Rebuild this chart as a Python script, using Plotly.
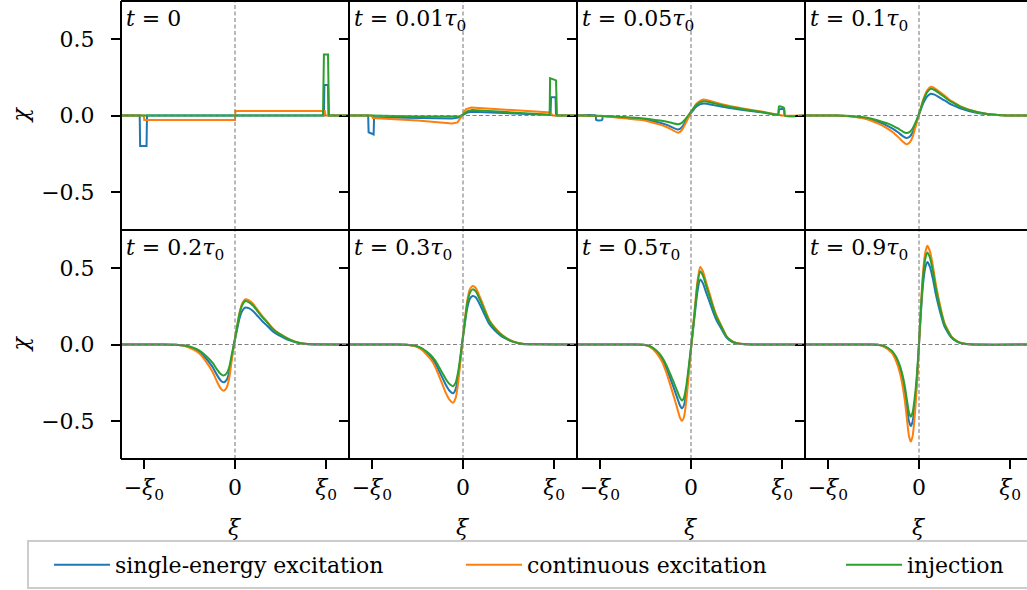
import plotly.graph_objects as go
from plotly.subplots import make_subplots

# ---------------- data (xi in units of xi_0, chi) ----------------
series_names = ["single-energy excitation", "continuous excitation", "injection"]
series_colors = ["#1f77b4", "#ff7f0e", "#2ca02c"]
panel_titles = [
    "<i>t</i> = 0",
    "<i>t</i> = 0.01<i>τ</i><sub>0</sub>",
    "<i>t</i> = 0.05<i>τ</i><sub>0</sub>",
    "<i>t</i> = 0.1<i>τ</i><sub>0</sub>",
    "<i>t</i> = 0.2<i>τ</i><sub>0</sub>",
    "<i>t</i> = 0.3<i>τ</i><sub>0</sub>",
    "<i>t</i> = 0.5<i>τ</i><sub>0</sub>",
    "<i>t</i> = 0.9<i>τ</i><sub>0</sub>",
]
x_tickvals = [-1, 0, 1]
x_ticktext = ["−<i>ξ</i><sub>0</sub>", "0", "<i>ξ</i><sub>0</sub>"]
y_tickvals = [-0.5, 0.0, 0.5]
y_ticktext = ["−0.5", "0.0", "0.5"]

# t = 0
xi_t0_se = [-1.25, -1.045, -1.04, -0.97, -0.965, 0.975, 0.98, 1.02, 1.025, 1.25]
se_t0 = [0, 0, -0.2, -0.2, 0, 0, 0.2, 0.2, 0, 0]
xi_t0_ce = [-1.25, -1.0, -0.995, 0.0, 0.005, 0.985, 0.99, 1.25]
ce_t0 = [0, 0, -0.03, -0.03, 0.03, 0.03, 0, 0]
xi_t0_inj = [-1.25, 0.965, 0.975, 1.02, 1.03, 1.25]
inj_t0 = [0, 0, 0.4, 0.4, 0, 0]

# t = 0.01 tau0
xi_t1_se = [-1.25, -1.04, -1.035, -0.98, -0.975, -0.5, -0.12, -0.05, 0.0, 0.05, 0.1, 0.5, 0.96, 0.965, 1.015, 1.02, 1.25]
se_t1 = [0, 0, -0.11, -0.124, -0.012, -0.015, -0.02, -0.014, 0.003, 0.02, 0.024, 0.014, 0.004, 0.12, 0.12, 0, 0]
xi_t1_ce = [-1.25, -1.0, -0.99, -0.5, -0.12, -0.06, -0.02, 0.0, 0.03, 0.09, 0.5, 0.96, 0.98, 1.25]
ce_t1 = [0, 0, -0.016, -0.033, -0.052, -0.045, -0.01, 0.01, 0.04, 0.052, 0.037, 0.02, 0, 0]
xi_t1_inj = [-1.25, -1.0, -0.5, -0.12, -0.05, 0.0, 0.05, 0.1, 0.5, 0.95, 0.955, 1.02, 1.03, 1.25]
inj_t1 = [0, 0, -0.006, -0.01, -0.007, 0.005, 0.028, 0.036, 0.02, 0.005, 0.245, 0.23, 0, 0]

# t = 0.05 tau0
xi_t2_se = [-1.25, -1.045, -1.04, -0.975, -0.965, -0.89, -0.7, -0.52, -0.34, -0.25, -0.14, -0.1, -0.05, 0.0,
            0.06, 0.136, 0.25, 0.39, 0.57, 0.79, 0.955, 0.965, 1.02, 1.03, 1.25]
se_t2 = [0, 0, -0.03, -0.03, -0.004, -0.007, -0.016, -0.025, -0.048, -0.065, -0.092, -0.077, -0.03, 0.015,
         0.06, 0.078, 0.068, 0.052, 0.036, 0.019, 0.006, 0.04, 0.04, 0, 0]
xi_t2_ce = [-1.25, -1.0, -0.89, -0.7, -0.52, -0.34, -0.25, -0.14, -0.1, -0.05, 0.0, 0.06, 0.136, 0.25, 0.39,
            0.57, 0.79, 0.96, 1.0, 1.25]
ce_t2 = [0, -0.003, -0.009, -0.02, -0.031, -0.06, -0.08, -0.113, -0.095, -0.041, 0.02, 0.078, 0.105, 0.088,
         0.067, 0.046, 0.024, 0.006, 0, 0]
xi_t2_inj = [-1.25, -1.0, -0.89, -0.7, -0.52, -0.34, -0.25, -0.14, -0.1, -0.05, 0.0, 0.06, 0.136, 0.25, 0.39,
             0.57, 0.79, 0.955, 0.965, 1.02, 1.03, 1.25]
inj_t2 = [0, -0.002, -0.005, -0.012, -0.019, -0.033, -0.042, -0.057, -0.048, -0.015, 0.025, 0.07, 0.093, 0.08,
          0.06, 0.041, 0.022, 0.006, 0.06, 0.05, 0, 0]

# t = 0.1 tau0
xi_t3 = [-1.25, -0.9, -0.8, -0.7, -0.6, -0.53, -0.44, -0.34, -0.28, -0.23, -0.18, -0.14, -0.1, -0.07, -0.04,
         -0.01, 0.02, 0.05, 0.09, 0.13, 0.17, 0.22, 0.28, 0.33, 0.39, 0.45, 0.52, 0.58, 0.66, 0.76, 0.9, 1.25]
se_t3 = [0, 0, -0.003, -0.008, -0.016, -0.026, -0.043, -0.069, -0.089, -0.11, -0.134, -0.148, -0.138, -0.11,
         -0.063, -0.012, 0.038, 0.084, 0.125, 0.143, 0.137, 0.12, 0.099, 0.08, 0.063, 0.047, 0.034, 0.025, 0.015,
         0.008, 0.002, 0]
ce_t3 = [0, 0, -0.004, -0.01, -0.02, -0.033, -0.055, -0.087, -0.113, -0.14, -0.17, -0.188, -0.175, -0.14, -0.08,
         -0.015, 0.05, 0.11, 0.165, 0.188, 0.18, 0.158, 0.13, 0.105, 0.083, 0.062, 0.045, 0.033, 0.02, 0.01,
         0.002, 0]
inj_t3 = [0, 0, -0.002, -0.006, -0.012, -0.02, -0.034, -0.053, -0.069, -0.085, -0.104, -0.115, -0.107, -0.085,
          -0.049, -0.004, 0.047, 0.102, 0.153, 0.175, 0.167, 0.147, 0.121, 0.098, 0.077, 0.058, 0.042, 0.031,
          0.019, 0.009, 0.002, 0]

# t = 0.2 tau0
xi_t4 = [-1.25, -0.8, -0.65, -0.55, -0.45, -0.39, -0.32, -0.245, -0.2, -0.16, -0.125, -0.09, -0.06, -0.04,
         -0.01, 0.02, 0.05, 0.08, 0.113, 0.15, 0.2, 0.25, 0.3, 0.34, 0.4, 0.45, 0.52, 0.6, 0.7, 0.8, 1.25]
se_t4 = [0, 0, -0.002, -0.008, -0.029, -0.048, -0.09, -0.148, -0.197, -0.234, -0.248, -0.23, -0.172, -0.098,
         0.0, 0.09, 0.172, 0.221, 0.242, 0.238, 0.217, 0.185, 0.152, 0.13, 0.094, 0.071, 0.049, 0.027, 0.009,
         0.002, 0]
ce_t4 = [0, 0, -0.002, -0.01, -0.035, -0.059, -0.11, -0.18, -0.24, -0.285, -0.303, -0.28, -0.21, -0.12, 0.0,
         0.11, 0.21, 0.27, 0.296, 0.29, 0.265, 0.225, 0.185, 0.159, 0.115, 0.087, 0.06, 0.033, 0.011, 0.003, 0]
inj_t4 = [0, 0, -0.001, -0.007, -0.023, -0.04, -0.074, -0.121, -0.161, -0.191, -0.203, -0.188, -0.141, -0.08,
          0.01, 0.106, 0.202, 0.259, 0.285, 0.278, 0.254, 0.216, 0.178, 0.153, 0.11, 0.084, 0.058, 0.032, 0.011,
          0.003, 0]

# t = 0.3 tau0
xi_t5 = [-1.25, -0.75, -0.62, -0.52, -0.45, -0.41, -0.35, -0.3, -0.26, -0.22, -0.186, -0.145, -0.11, -0.08,
         -0.055, -0.035, -0.01, 0.02, 0.045, 0.075, 0.105, 0.14, 0.19, 0.24, 0.29, 0.35, 0.41, 0.47, 0.55, 0.65,
         0.8, 1.25]
se_t5 = [0, 0, -0.001, -0.01, -0.029, -0.049, -0.084, -0.127, -0.176, -0.225, -0.267, -0.305, -0.32, -0.292,
         -0.217, -0.125, 0.0, 0.134, 0.234, 0.3, 0.318, 0.309, 0.255, 0.192, 0.133, 0.092, 0.06, 0.038, 0.017,
         0.004, 0.001, 0]
ce_t5 = [0, 0, -0.001, -0.012, -0.035, -0.059, -0.1, -0.152, -0.211, -0.27, -0.32, -0.365, -0.382, -0.35, -0.26,
         -0.15, 0.0, 0.16, 0.28, 0.36, 0.383, 0.37, 0.305, 0.23, 0.159, 0.11, 0.072, 0.045, 0.02, 0.005, 0.001, 0]
inj_t5 = [0, 0, -0.001, -0.009, -0.025, -0.042, -0.072, -0.109, -0.151, -0.193, -0.229, -0.261, -0.273, -0.25,
          -0.186, -0.107, 0.01, 0.15, 0.263, 0.338, 0.361, 0.348, 0.287, 0.216, 0.15, 0.103, 0.068, 0.042, 0.019,
          0.005, 0.001, 0]

# t = 0.5 tau0
xi_t6 = [-1.25, -0.65, -0.52, -0.45, -0.38, -0.32, -0.27, -0.23, -0.19, -0.15, -0.12, -0.1, -0.075, -0.05,
         -0.025, 0.005, 0.025, 0.044, 0.07, 0.1, 0.13, 0.17, 0.21, 0.245, 0.28, 0.32, 0.39, 0.45, 0.5, 0.6, 1.25]
se_t6 = [0, 0, -0.002, -0.013, -0.045, -0.092, -0.155, -0.217, -0.283, -0.351, -0.401, -0.418, -0.393, -0.301,
         -0.167, 0.0, 0.109, 0.209, 0.343, 0.425, 0.401, 0.334, 0.268, 0.209, 0.159, 0.117, 0.045, 0.018, 0.008,
         0.001, 0]
ce_t6 = [0, 0, -0.002, -0.015, -0.054, -0.11, -0.185, -0.26, -0.338, -0.42, -0.48, -0.5, -0.47, -0.36, -0.2,
         0.0, 0.13, 0.25, 0.41, 0.508, 0.48, 0.4, 0.32, 0.25, 0.19, 0.14, 0.054, 0.022, 0.01, 0.001, 0]
inj_t6 = [0, 0, -0.001, -0.011, -0.04, -0.081, -0.135, -0.19, -0.247, -0.307, -0.351, -0.366, -0.344, -0.264,
          -0.146, 0.01, 0.123, 0.236, 0.387, 0.479, 0.453, 0.377, 0.302, 0.236, 0.179, 0.132, 0.051, 0.021,
          0.009, 0.001, 0]

# t = 0.9 tau0
xi_t7 = [-1.25, -0.55, -0.45, -0.38, -0.3, -0.25, -0.21, -0.18, -0.157, -0.13, -0.11, -0.09, -0.07, -0.047,
         -0.022, 0.0, 0.022, 0.044, 0.068, 0.092, 0.12, 0.154, 0.18, 0.21, 0.245, 0.28, 0.355, 0.41, 0.465, 0.55,
         1.25]
se_t7 = [0, 0, -0.002, -0.013, -0.045, -0.092, -0.155, -0.227, -0.302, -0.42, -0.504, -0.534, -0.504, -0.395,
         -0.218, 0.0, 0.217, 0.392, 0.501, 0.54, 0.509, 0.426, 0.342, 0.264, 0.184, 0.117, 0.045, 0.021, 0.008,
         0.001, 0]
ce_t7 = [0, 0, -0.002, -0.015, -0.054, -0.11, -0.185, -0.27, -0.36, -0.5, -0.6, -0.636, -0.6, -0.47, -0.26, 0.0,
         0.26, 0.47, 0.6, 0.647, 0.61, 0.51, 0.41, 0.316, 0.22, 0.14, 0.054, 0.025, 0.01, 0.001, 0]
inj_t7 = [0, 0, -0.001, -0.011, -0.04, -0.082, -0.138, -0.201, -0.268, -0.372, -0.446, -0.473, -0.446, -0.35,
          -0.19, 0.01, 0.245, 0.438, 0.559, 0.603, 0.569, 0.475, 0.382, 0.295, 0.205, 0.13, 0.05, 0.023, 0.009,
          0.001, 0]

panels = [
    ((xi_t0_se, se_t0), (xi_t0_ce, ce_t0), (xi_t0_inj, inj_t0), "linear"),
    ((xi_t1_se, se_t1), (xi_t1_ce, ce_t1), (xi_t1_inj, inj_t1), "linear"),
    ((xi_t2_se, se_t2), (xi_t2_ce, ce_t2), (xi_t2_inj, inj_t2), "spline"),
    ((xi_t3, se_t3), (xi_t3, ce_t3), (xi_t3, inj_t3), "spline"),
    ((xi_t4, se_t4), (xi_t4, ce_t4), (xi_t4, inj_t4), "spline"),
    ((xi_t5, se_t5), (xi_t5, ce_t5), (xi_t5, inj_t5), "spline"),
    ((xi_t6, se_t6), (xi_t6, ce_t6), (xi_t6, inj_t6), "spline"),
    ((xi_t7, se_t7), (xi_t7, ce_t7), (xi_t7, inj_t7), "spline"),
]

# ---------------- layout geometry ----------------
W, H = 1027, 590
ML, MR, MT, MB = 121, 0, 1, 131
PW = W - ML - MR
PH = H - MT - MB
COLW = 228
col_dom = [[0, COLW / PW], [COLW / PW, 2 * COLW / PW], [2 * COLW / PW, 3 * COLW / PW], [3 * COLW / PW, 1.0]]
row_dom = [[0.5, 1.0], [0.0, 0.5]]
XR = [-1.25, 1.25]
XR_last = [-1.25, -1.25 + 2.5 * (PW - 3 * COLW) / COLW]
YR = [-0.75, 0.75]
FONT = "DejaVu Serif"
TXT = dict(size=22, family=FONT, color="black")

fig = make_subplots(rows=2, cols=4, horizontal_spacing=0, vertical_spacing=0)

legend_keys = ["legend", "legend2", "legend3"]
for k, (a, b, c, shape) in enumerate(panels):
    r, cidx = k // 4 + 1, k % 4 + 1
    for s, (xs, ys) in enumerate((a, b, c)):
        line = dict(color=series_colors[s], width=2, shape=shape)
        if shape == "spline":
            line["smoothing"] = 0.6
        fig.add_trace(go.Scatter(x=xs, y=ys, mode="lines", name=series_names[s], line=line,
                                 legendgroup=series_names[s], showlegend=(k == 0),
                                 legend=legend_keys[s], hoverinfo="skip"),
                      row=r, col=cidx)

shapes = []
annotations = []
for k in range(8):
    n = k + 1
    r, c = k // 4, k % 4
    sfx = "" if n == 1 else str(n)
    xa = dict(domain=col_dom[c], range=XR_last if c == 3 else XR, showgrid=False, zeroline=False,
              showline=False, tickvals=x_tickvals, fixedrange=True, tickfont=TXT)
    if r == 1:
        xa.update(ticks="outside", ticklen=9, tickwidth=2, tickcolor="black", showticklabels=True,
                  ticktext=x_ticktext, ticklabelstandoff=0)
    else:
        xa.update(ticks="", showticklabels=False)
    ya = dict(domain=row_dom[r], range=YR, showgrid=False, zeroline=False, showline=False,
              tickvals=y_tickvals, ticks="outside", ticklen=9, tickwidth=2,
              tickcolor="black", showticklabels=(c == 0), fixedrange=True, tickfont=TXT)
    if c == 0:
        ya.update(ticktext=y_ticktext, ticklabelstandoff=12)
    fig.layout["xaxis" + sfx].update(xa)
    fig.layout["yaxis" + sfx].update(ya)

    dash = dict(color="#808080", width=1.1, dash="4px,2.5px")
    shapes.append(dict(type="line", xref="x" + sfx, yref="y" + sfx + " domain", x0=0, x1=0, y0=0, y1=1,
                       line=dash, layer="above"))
    shapes.append(dict(type="line", xref="x" + sfx + " domain", yref="y" + sfx, x0=0, x1=1, y0=0, y1=0,
                       line=dash, layer="above"))
    spine = dict(color="black", width=2)
    for (x0, x1, y0, y1) in [(0, 0, 0, 1), (0, 1, 1, 1), (0, 1, 0, 0)]:
        shapes.append(dict(type="line", xref="x" + sfx + " domain", yref="y" + sfx + " domain",
                           x0=x0, x1=x1, y0=y0, y1=y1, line=spine, layer="above"))

    annotations.append(dict(text=panel_titles[k], xref="x" + sfx + " domain", yref="y" + sfx + " domain",
                            x=0.015, y=0.985, xanchor="left", yanchor="top", showarrow=False, font=TXT))
    if r == 1:
        annotations.append(dict(text="<i>ξ</i>", xref="x" + sfx, yref="paper", x=0,
                                y=(H - MB - 527) / PH, xanchor="center", yanchor="middle",
                                showarrow=False, font=TXT))
    if c == 0:
        annotations.append(dict(text="<i>χ</i>", xref="paper", yref="y" + sfx, x=(20 - ML) / PW, y=0,
                                xanchor="center", yanchor="middle", textangle=-90, showarrow=False,
                                font=TXT))

# legend frame (extends past the right edge like the reference)
shapes.append(dict(type="rect", xref="paper", yref="paper",
                   x0=(28 - ML) / PW, x1=(1045 - ML) / PW,
                   y0=(H - MB - 588) / PH, y1=(H - MB - 541) / PH,
                   line=dict(color="#cccccc", width=2), fillcolor="white", layer="below"))

leg_y = (H - MB - 565) / PH
text_x = [115, 527, 907]
ITEMW = 56
leg_common = dict(orientation="h", xanchor="left", y=leg_y, yanchor="middle",
                  bgcolor="rgba(0,0,0,0)", borderwidth=0, itemwidth=ITEMW, font=TXT)

fig.update_layout(
    width=W, height=H,
    margin=dict(l=ML, r=MR, t=MT, b=MB, pad=0),
    paper_bgcolor="white", plot_bgcolor="rgba(0,0,0,0)",
    font=TXT,
    shapes=shapes, annotations=annotations,
    legend=dict(leg_common, x=(text_x[0] - ITEMW - 10 - ML) / PW),
    legend2=dict(leg_common, x=(text_x[1] - ITEMW - 10 - ML) / PW),
    legend3=dict(leg_common, x=(text_x[2] - ITEMW - 10 - ML) / PW),
)

fig.write_html("out.html")
